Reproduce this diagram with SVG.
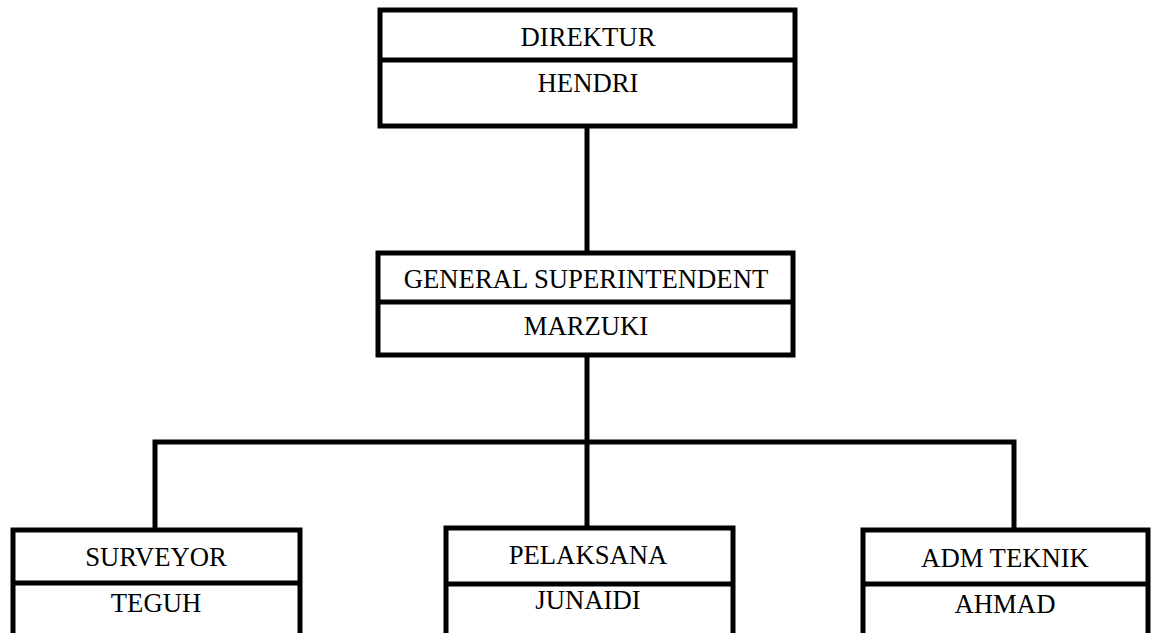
<svg xmlns="http://www.w3.org/2000/svg" width="1151" height="633" viewBox="0 0 1151 633">
<style>
.box{fill:#fff;stroke:#000;stroke-width:5}
.div{stroke:#000;stroke-width:5}
.con{stroke:#000;stroke-width:5;fill:none}
text{font-family:"Liberation Serif","Times New Roman",serif;font-size:26.7px;fill:#000;text-anchor:middle}
</style>
<rect width="1151" height="633" fill="#fff"/>
<g id="connectors">
<line class="con" x1="587" y1="126" x2="587" y2="253"/>
<line class="con" x1="587" y1="355" x2="587" y2="528"/>
<polyline class="con" points="155,530 155,442 1014,442 1014,530"/>
</g>
<g id="direktur">
<rect class="box" x="380" y="10" width="415" height="116"/>
<line class="div" x1="380" y1="60" x2="795" y2="60"/>
<text x="588" y="46">DIREKTUR</text>
<text x="588" y="92">HENDRI</text>
</g>
<g id="gs">
<rect class="box" x="378" y="253" width="415" height="102"/>
<line class="div" x1="378" y1="302" x2="793" y2="302"/>
<text x="586" y="288">GENERAL SUPERINTENDENT</text>
<text x="586" y="335">MARZUKI</text>
</g>
<g id="surveyor">
<rect class="box" x="13" y="530" width="287" height="120"/>
<line class="div" x1="13" y1="583" x2="300" y2="583"/>
<text x="156" y="566">SURVEYOR</text>
<text x="156" y="612">TEGUH</text>
</g>
<g id="pelaksana">
<rect class="box" x="446" y="528" width="287" height="122"/>
<line class="div" x1="446" y1="584" x2="733" y2="584"/>
<text x="588" y="564">PELAKSANA</text>
<text x="588" y="609">JUNAIDI</text>
</g>
<g id="admteknik">
<rect class="box" x="863" y="530" width="285" height="120"/>
<line class="div" x1="863" y1="584" x2="1148" y2="584"/>
<text x="1005" y="567">ADM TEKNIK</text>
<text x="1005" y="613">AHMAD</text>
</g>
</svg>
